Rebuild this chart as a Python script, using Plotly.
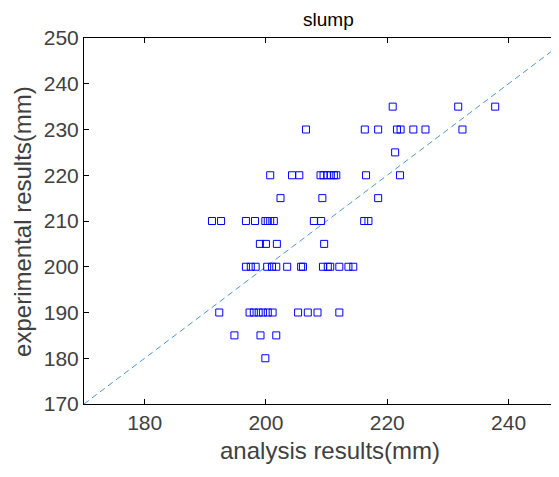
import plotly.graph_objects as go

analysis = [
    220.9, 231.7, 237.8,
    206.6, 216.3, 218.5, 221.6, 222.2, 224.3, 226.3, 232.4,
    221.3,
    200.7, 204.3, 205.5, 209.0, 209.5, 210.1, 210.7, 211.2, 211.6, 216.5, 222.1,
    202.4, 209.3, 218.5,
    191.1, 192.6, 196.7, 198.2, 199.9, 200.3, 200.7, 201.3, 207.9, 209.1, 216.2, 216.9,
    199.0, 200.0, 201.8, 209.6,
    196.7, 197.5, 198.3, 200.2, 201.0, 201.7, 203.5, 205.8, 206.1, 209.4, 210.2, 210.6, 212.1, 213.6, 214.4,
    192.3, 197.3, 198.0, 198.8, 199.5, 200.3, 201.1, 205.3, 206.9, 208.5, 212.1,
    194.8, 199.1, 201.7,
    199.9,
]
experimental = (
    [235] * 3 + [230] * 8 + [225] * 1 + [220] * 11 + [215] * 3 + [210] * 12
    + [205] * 4 + [200] * 15 + [190] * 11 + [185] * 3 + [180] * 1
)

diag = [170, 250]
x_ticks = [180, 200, 220, 240]
y_ticks = [170, 180, 190, 200, 210, 220, 230, 240, 250]

FONT = "Arial, Liberation Sans, sans-serif"
GREY = '#404040'

fig = go.Figure()

fig.add_trace(go.Scatter(
    x=diag, y=diag, mode='lines',
    line=dict(color='#4a97d6', width=1, dash='6px,4px'),
    showlegend=False, hoverinfo='skip'
))

fig.add_trace(go.Scatter(
    x=analysis, y=experimental, mode='markers',
    marker=dict(symbol='square-open', size=7, color='#0000ff',
                line=dict(width=1, color='#0000ff')),
    showlegend=False
))

# page body has an 8px margin, so the figure is 16px smaller than the window
fig.update_layout(
    width=543, height=461,
    margin=dict(l=76, r=0, t=30, b=65),
    paper_bgcolor='white', plot_bgcolor='white',
    font=dict(family=FONT, color=GREY),
    title=dict(text='slump', x=0.59, xanchor='center', y=0.976, yanchor='middle',
               font=dict(size=19, color='black', family=FONT)),
    annotations=[
        dict(text='analysis results(mm)', xref='paper', yref='paper',
             x=0.527, y=-0.128, xanchor='center', yanchor='middle',
             showarrow=False, font=dict(size=24, color=GREY)),
        dict(text='experimental results(mm)', xref='paper', yref='paper',
             x=-0.133, y=0.5, xanchor='center', yanchor='middle', textangle=-90,
             showarrow=False, font=dict(size=24, color=GREY)),
    ],
)

fig.update_xaxes(
    range=[170, 247], tickvals=x_ticks, ticks='inside', ticklen=5,
    tickcolor='black', showline=True, linecolor='black', linewidth=1,
    mirror='ticks', showgrid=False, zeroline=False,
    tickfont=dict(size=21, color=GREY),
)

fig.update_yaxes(
    range=[170, 250], tickvals=y_ticks, ticks='inside', ticklen=5,
    tickcolor='black', showline=True, linecolor='black', linewidth=1,
    showgrid=False, zeroline=False,
    tickfont=dict(size=21, color=GREY),
)

fig.write_html("out.html")
